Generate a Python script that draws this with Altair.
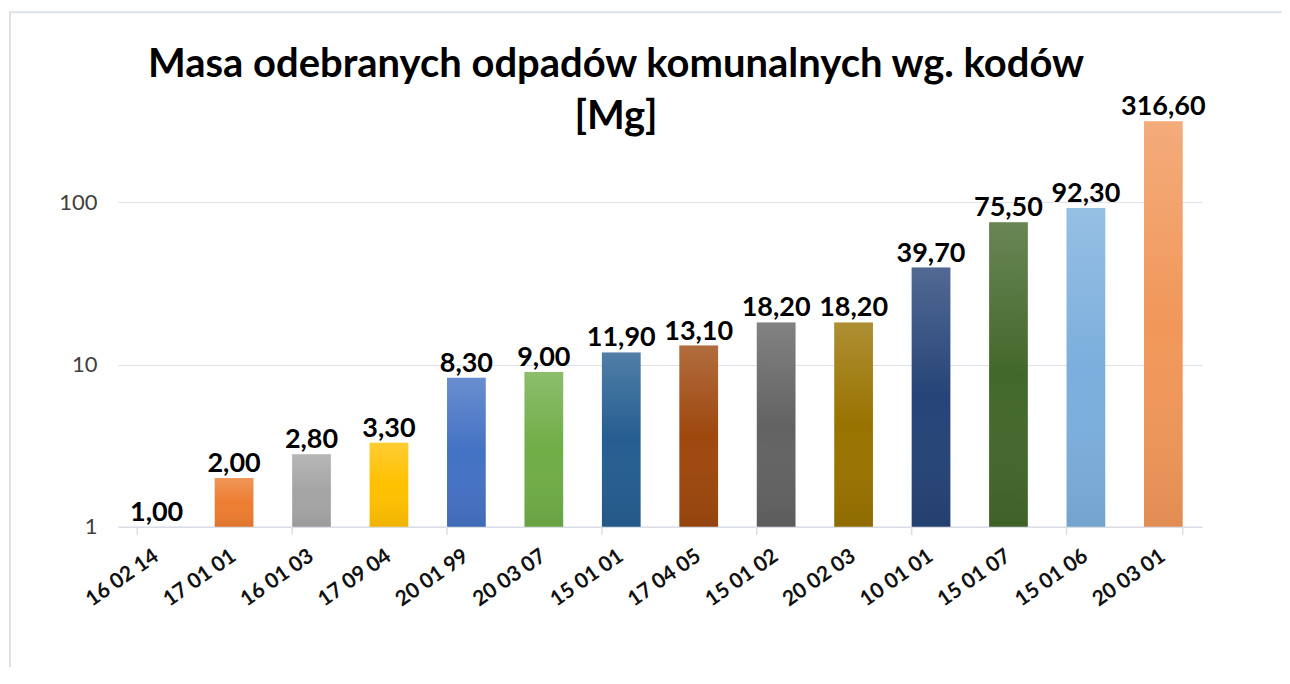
import altair as alt
import pandas as pd

codes = ["16 02 14", "17 01 01", "16 01 03", "17 09 04", "20 01 99", "20 03 07", "15 01 01",
         "17 04 05", "15 01 02", "20 02 03", "10 01 01", "15 01 07", "15 01 06", "20 03 01"]
masses = [1.00, 2.00, 2.80, 3.30, 8.30, 9.00, 11.90, 13.10, 18.20, 18.20, 39.70, 75.50, 92.30, 316.60]
bar_colors = ["#5B9BD5", "#ED7D31", "#A5A5A5", "#FFC000", "#4472C4", "#70AD47", "#255E91",
              "#9E480E", "#636363", "#997300", "#264478", "#43682B", "#7CAFDD", "#F1975A"]
y_ticks = [1, 10, 100]
title_lines = ["Masa odebranych odpadów komunalnych wg. kodów", "[Mg]"]

df = pd.DataFrame({
    "code": codes,
    "mass": masses,
    "color": bar_colors,
    "label": [f"{v:.2f}".replace(".", ",") for v in masses],
    "idx": list(range(len(codes))),
})

W, H = 1085, 413
FONT = "Lato"

x_scale = alt.Scale(paddingInner=0.5, paddingOuter=0.25)
x_enc = alt.X("code:N", sort=codes, scale=x_scale,
              axis=alt.Axis(title=None, labelAngle=325, labelAlign="right", labelBaseline="middle",
                            labelFont=FONT, labelFontSize=21, labelFontWeight="bold",
                            labelColor="#111111", labelPadding=27, ticks=False,
                            domainColor="#D9DEE6", domainWidth=1.5, grid=False))
y_scale = alt.Scale(type="log", domain=[1, 350], nice=False)
y_enc = alt.Y("mass:Q", scale=y_scale, stack=False,
              axis=alt.Axis(title=None, values=y_ticks, format="d", labelFont=FONT,
                            labelFontSize=22, labelColor="#404040", labelPadding=21,
                            ticks=False, domain=False, gridColor="#DDE2EA", gridWidth=1))

base = alt.Chart(df)

frame = alt.Chart(pd.DataFrame({"f": [0]})).mark_rect(
    fillOpacity=0, stroke="#DDE2EA", strokeWidth=2
).encode(x=alt.value(-108), x2=alt.value(1300), y=alt.value(-102), y2=alt.value(700))

bars = base.mark_bar().encode(
    x=x_enc, y=y_enc, y2=alt.value(H), color=alt.Color("color:N", scale=None)
)

shade = base.mark_bar(
    color=alt.Gradient(
        gradient="linear", x1=0, y1=0, x2=0, y2=1,
        stops=[alt.GradientStop(color="rgba(255,255,255,0.2)", offset=0),
               alt.GradientStop(color="rgba(255,255,255,0)", offset=0.5),
               alt.GradientStop(color="rgba(0,0,0,0.07)", offset=1)])
).encode(x=x_enc, y=y_enc, y2=alt.value(H))

labels = base.mark_text(
    font=FONT, fontSize=27, fontWeight="bold", color="#000000", baseline="alphabetic", dy=-6
).encode(x=x_enc, y=y_enc, text="label:N")

tick_x0 = alt.X("code:N", sort=codes, bandPosition=0, scale=x_scale)
tick_x1 = alt.X("code:N", sort=codes, bandPosition=1, scale=x_scale)
ticks_even = base.transform_filter("datum.idx % 2 == 0").mark_rule(
    color="#D9DEE6", strokeWidth=1.5
).encode(x=tick_x0, y=alt.value(H), y2=alt.value(H + 8))
tick_end = base.transform_filter(f"datum.idx == {len(codes) - 1}").mark_rule(
    color="#D9DEE6", strokeWidth=1.5
).encode(x=tick_x1, y=alt.value(H), y2=alt.value(H + 8))

chart = alt.layer(frame, bars, shade, ticks_even, tick_end, labels).properties(
    width=W, height=H,
    background="white",
    padding={"left": 110, "top": 106, "right": 80, "bottom": 140},
    autosize=alt.AutoSizeParams(type="none"),
    title=alt.TitleParams(
        text=title_lines, font=FONT, fontSize=40, fontWeight="bold", color="#000000",
        anchor="middle", frame="group", baseline="alphabetic", lineHeight=52,
        offset=0, dy=158, dx=-44
    ),
).configure_view(strokeWidth=0)

chart.save("out.html", embed_options={"renderer": "svg", "actions": False})
